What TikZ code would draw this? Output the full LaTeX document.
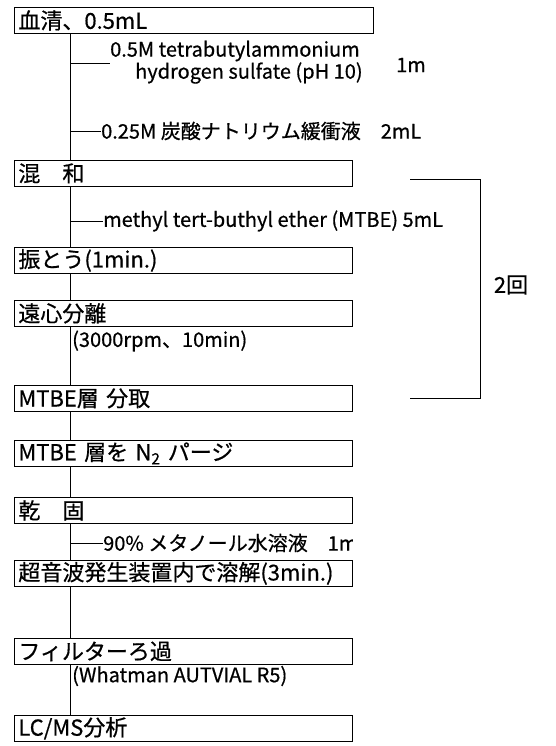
\documentclass[tikz,border=0pt]{standalone}
\usepackage{fontspec}
\setmainfont{Noto Sans CJK JP}[FakeBold=0.6]
\begin{document}
\begin{tikzpicture}[x=1pt,y=-1pt,
  every node/.style={font=\fontsize{22}{26}\selectfont},
  box/.style={draw, line width=0.8pt, anchor=north west, minimum height=26pt,
    text width=330pt, inner xsep=4pt, inner ysep=0pt, align=left},
  lab/.style={anchor=west, inner sep=0pt, font=\fontsize{20}{24}\selectfont},
  conn/.style={line width=0.8pt}]
\useasboundingbox (0,0) rectangle (556,746);
\coordinate (tx) at (70,0);
% boxes
\node[box, text width=351pt] (b1) at (14,7) {血清、0.5mL};
\node[box] (b2) at (14,160) {混　和};
\node[box] (b3) at (14,247) {振とう(1min.)};
\node[box] (b4) at (14,300) {遠心分離};
\node[box] (b5) at (14,385) {MTBE層 分取};
\node[box] (b6) at (14,440) {MTBE 層を N\textsubscript{2} パージ};
\node[box] (b7) at (14,497) {乾　固};
\node[box] (b8) at (14,560) {超音波発生装置内で溶解(3min.)};
\node[box] (b9) at (14,638) {フィルターろ過};
\node[box] (b10) at (14,715) {LC/MS分析};
% side labels
\node[lab] (t1) at (110,51) {0.5M tetrabutylammonium};
\node[lab] (t2) at (135,73) {hydrogen sulfate (pH 10)};
\node[lab] (t3) at (396,65) {1m};
\node[lab] (t4) at (101,131) {0.25M 炭酸ナトリウム緩衝液　2mL};
\node[lab] (t5) at (103,221) {methyl tert-buthyl ether (MTBE) 5mL};
\node[lab] (t6) at (72,341) {(3000rpm、10min)};
\begin{scope}
\clip (0,530) rectangle (b8.north east);
\node[lab] (t7) at (103,543) {90\% メタノール水溶液　1m};
\end{scope}
\node[lab] (t8) at (72,676) {(Whatman AUTVIAL R5)};
\node (t9) at (511,285) {2回};
% trunk
\foreach \a/\b in {b1/b2,b2/b3,b3/b4,b4/b5,b5/b6,b6/b7,b7/b8,b8/b9,b9/b10}
  \draw[conn] (\a.south -| tx) -- (\b.north -| tx);
% branches
\coordinate (j1) at (70,63);
\draw[conn] (j1) -- (j1 -| t1.west);
\draw[conn] (t4.west -| tx) -- (t4.west);
\draw[conn] (t5.west -| tx) -- (t5.west);
\draw[conn] (t7.west -| tx) -- (t7.west);
% bracket
\coordinate (k1) at (410,179);
\coordinate (k2) at (480,398);
\coordinate (k3) at (410,398);
\draw[conn] (k1) -| (k2) -- (k3);
\end{tikzpicture}
\end{document}
